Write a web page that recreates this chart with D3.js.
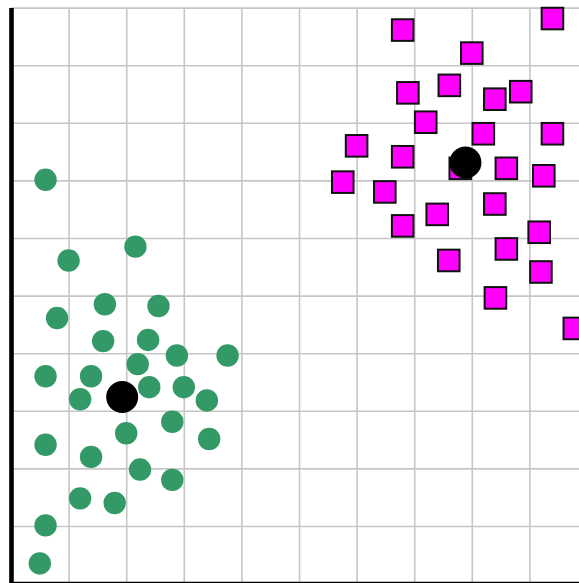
<!DOCTYPE html>
<html>
<head>
<meta charset="utf-8">
<script src="https://cdn.jsdelivr.net/npm/d3@7"></script>
<style>
  html, body { margin: 0; padding: 0; background: #fff; overflow: hidden; }
  svg { display: block; }
</style>
</head>
<body>
<script>
// Cluster A (green circles)
const clusterAX = [0.60, 1.00, 2.16, 0.80, 1.63, 2.56, 1.60, 2.38, 0.60, 1.39, 2.20, 2.88, 3.76, 1.20,
                   2.40, 3.00, 3.40, 0.60, 2.00, 2.80, 3.44, 1.39, 2.24, 2.80, 1.20, 1.80, 0.60, 0.50];
const clusterAY = [7.01, 5.61, 5.85, 4.61, 4.85, 4.82, 4.21, 4.23, 3.60, 3.60, 3.81, 3.96, 3.96, 3.20,
                   3.41, 3.41, 3.18, 2.41, 2.61, 2.81, 2.51, 2.20, 1.98, 1.80, 1.48, 1.40, 1.01, 0.35];

// Cluster B (magenta squares)
const clusterBX = [6.80, 8.00, 9.40, 6.89, 7.61, 8.40, 8.85, 7.20, 8.20, 9.40, 6.00, 6.80, 7.80,
                   8.60, 9.25, 5.76, 6.49, 7.40, 8.40, 6.80, 9.17, 8.60, 7.60, 9.20, 8.41, 9.78];
const clusterBY = [9.61, 9.21, 9.81, 8.52, 8.65, 8.41, 8.54, 8.01, 7.81, 7.81, 7.60, 7.41, 7.21,
                   7.21, 7.08, 6.97, 6.80, 6.41, 6.59, 6.21, 6.10, 5.81, 5.61, 5.41, 4.96, 4.43];

// Cluster centres
const centroidX = [1.93, 7.89];
const centroidY = [3.24, 7.31];

// Axis domain and grid ticks
const domainX = [0, 10];
const domainY = [0, 10];
const gridTicks = [0, 1, 2, 3, 4, 5, 6, 7, 8, 9, 10];

const W = 579, H = 583;
const left = 11, bottom = 583.6, size = 576;

const svg = d3.select("body").append("svg")
  .attr("width", W).attr("height", H);

const x = d3.scaleLinear().domain(domainX).range([left, left + size]);
const y = d3.scaleLinear().domain(domainY).range([bottom, bottom - size]);

// Grid
const gx = svg.append("g")
  .attr("transform", `translate(0,${bottom})`)
  .call(d3.axisBottom(x).tickValues(gridTicks).tickSize(-size).tickFormat(""));
const gy = svg.append("g")
  .attr("transform", `translate(${left},0)`)
  .call(d3.axisLeft(y).tickValues(gridTicks).tickSize(-size).tickFormat(""));
[gx, gy].forEach(g => {
  g.select(".domain").remove();
  g.selectAll(".tick line").attr("stroke", "#c6c6c6").attr("stroke-width", 1.6);
});

// Points
const ptsA = clusterAX.map((v, i) => ({ x: v, y: clusterAY[i] }));
const ptsB = clusterBX.map((v, i) => ({ x: v, y: clusterBY[i] }));
const cents = centroidX.map((v, i) => ({ x: v, y: centroidY[i] }));

svg.append("g").selectAll("circle").data(ptsA).join("circle")
  .attr("cx", d => x(d.x)).attr("cy", d => y(d.y))
  .attr("r", 11.2).attr("fill", "#339966");

const side = 21.6;
svg.append("g").selectAll("rect").data(ptsB).join("rect")
  .attr("x", d => x(d.x) - side / 2).attr("y", d => y(d.y) - side / 2)
  .attr("width", side).attr("height", side)
  .attr("fill", "#ff00ff").attr("stroke", "#111").attr("stroke-width", 2);

svg.append("g").selectAll("circle").data(cents).join("circle")
  .attr("cx", d => x(d.x)).attr("cy", d => y(d.y))
  .attr("r", 16).attr("fill", "#000");

// Axes
const ax = svg.append("g")
  .attr("transform", `translate(0,${bottom})`)
  .call(d3.axisBottom(x).tickValues([]).tickSizeOuter(0));
const ay = svg.append("g")
  .attr("transform", `translate(${left},0)`)
  .call(d3.axisLeft(y).tickValues([]).tickSizeOuter(0));
[ax, ay].forEach(g => g.select(".domain").attr("stroke", "#000").attr("stroke-width", 4.6));
</script>
</body>
</html>
